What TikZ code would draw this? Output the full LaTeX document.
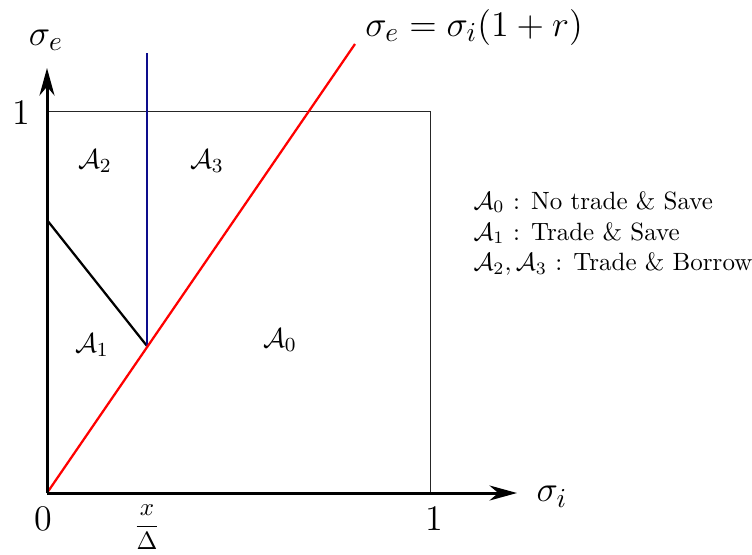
\documentclass[tikz,border=0pt]{standalone}
\usetikzlibrary{arrows.meta}
\begin{document}
\begin{tikzpicture}[x=0.4pt,y=-0.4pt,
  axis/.style={line width=1.2pt,-{Stealth[length=11pt,width=6pt,inset=3.5pt]}},
  boxline/.style={line width=0.4pt, color=black!85},
  lbl/.style={inner sep=0pt},
  big/.style={font=\fontsize{15.5}{18}\selectfont},
  reg/.style={font=\fontsize{11}{13}\selectfont, inner sep=0pt}]
\useasboundingbox (0,0) rectangle (752,554);
% coordinates
\coordinate (O) at (47,493);
\coordinate (Xend) at (517,493);
\coordinate (Yend) at (47,68);
\coordinate (B1) at (47,111);
\coordinate (B2) at (430,111);
\coordinate (B3) at (430,493);
\coordinate (Rtop) at (355,44);
\coordinate (K) at (147,346);
\coordinate (Btop) at (147,53);
\coordinate (D) at (47,220);
% box
\draw[boxline] (B1) -- (B2) -- (B3);
% lines
\draw[line width=0.9pt] (D) -- (K);
\draw[line width=0.9pt, color={rgb,1:red,0.05;green,0.05;blue,0.55}] (Btop) -- (K);
\draw[line width=0.9pt, red] (O) -- (Rtop);
% axes
\draw[axis] (O) -- (Xend);
\draw[axis] (O) -- (Yend);
% axis labels
\node[lbl,big] (se) at (46,40) {$\sigma_e$};
\node[lbl,big] (si) at (552,497) {$\sigma_i$};
\node[lbl,big] (y1) at (21,113) {$1$};
\node[lbl,big] (x0) at (43,519) {$0$};
\node[lbl,big] (x1) at (434,519) {$1$};
\node[lbl] (xd) at (147,527) {$\displaystyle\frac{x}{\Delta}$};
\node[lbl,big] (eq) at (474,27) {$\sigma_e=\sigma_i(1+r)$};
% regions
\node[reg] (a2) at (95,161) {$\mathcal{A}_2$};
\node[reg] (a3) at (207,161) {$\mathcal{A}_3$};
\node[reg] (a1) at (92,345) {$\mathcal{A}_1$};
\node[reg] (a0) at (280,340) {$\mathcal{A}_0$};
% legend
\node[lbl,anchor=west] (l0) at (473,202) {$\mathcal{A}_0$ : No trade \& Save};
\node[lbl,anchor=west] (l1) at (473,233) {$\mathcal{A}_1$ : Trade \& Save};
\node[lbl,anchor=west] (l2) at (473,264) {$\mathcal{A}_2,\mathcal{A}_3$ : Trade \& Borrow};
\end{tikzpicture}
\end{document}
